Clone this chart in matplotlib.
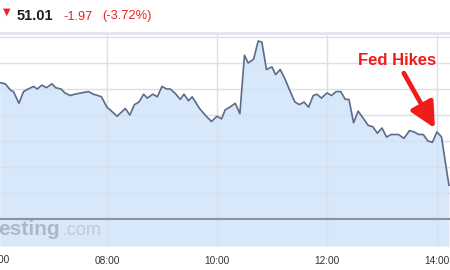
import pandas as pd
import numpy as np
import matplotlib
matplotlib.use('Agg')
import matplotlib.pyplot as plt
import matplotlib.dates as mdates
import matplotlib.transforms as mtransforms

# intraday quotes
times = ['06:03', '06:09', '06:15', '06:18', '06:24', '06:29', '06:34', '06:40', '06:44', '06:49',
         '06:54', '07:00', '07:04', '07:10', '07:14', '07:20', '07:25', '07:32', '07:40', '07:45',
         '07:50', '07:54', '08:00', '08:05', '08:11', '08:20', '08:25', '08:30', '08:35', '08:40',
         '08:44', '08:50', '08:55', '09:00', '09:05', '09:09', '09:14', '09:20', '09:24', '09:29',
         '09:33', '09:41', '09:47', '09:54', '10:00', '10:05', '10:09', '10:14', '10:20', '10:25',
         '10:30', '10:34', '10:40', '10:45', '10:49', '10:54', '11:00', '11:04', '11:09', '11:14',
         '11:20', '11:25', '11:30', '11:35', '11:40', '11:45', '11:49', '11:54', '12:00', '12:05',
         '12:10', '12:15', '12:20', '12:24', '12:29', '12:34', '12:40', '12:45', '12:50', '12:55',
         '13:00', '13:05', '13:10', '13:18', '13:24', '13:30', '13:35', '13:40', '13:45', '13:50',
         '13:55', '14:00', '14:05', '14:08', '14:13']
prices = [51.85, 51.84, 51.79, 51.78, 51.69, 51.78, 51.80, 51.82, 51.80, 51.83,
          51.81, 51.84, 51.81, 51.80, 51.77, 51.75, 51.76, 51.77, 51.78, 51.76,
          51.75, 51.74, 51.66, 51.63, 51.59, 51.65, 51.60, 51.68, 51.70, 51.76,
          51.73, 51.76, 51.74, 51.82, 51.80, 51.80, 51.77, 51.72, 51.76, 51.71,
          51.74, 51.65, 51.60, 51.55, 51.59, 51.57, 51.64, 51.66, 51.69, 51.61,
          52.06, 52.00, 52.03, 52.17, 52.16, 51.95, 51.97, 51.91, 51.95, 51.88,
          51.78, 51.70, 51.68, 51.70, 51.66, 51.75, 51.76, 51.73, 51.77, 51.75,
          51.78, 51.78, 51.72, 51.72, 51.54, 51.63, 51.57, 51.52, 51.51, 51.46,
          51.50, 51.43, 51.45, 51.45, 51.42, 51.48, 51.47, 51.45, 51.45, 51.40,
          51.39, 51.47, 51.43, 51.29, 51.06]
tick_times = ['06:00', '08:00', '10:00', '12:00', '14:00']
ref_level = 50.8
last_price = '51.01'
change = '-1.97'
change_pct = '(-3.72%)'
event_time = '14:00'
event_label = 'Fed Hikes'

plt.rcParams['font.family'] = ['Liberation Sans', 'DejaVu Sans']

day = '2015-12-16 '
t = pd.to_datetime([day + s for s in times])
ticks = pd.to_datetime([day + s for s in tick_times])
p = np.array(prices)

fig = plt.figure(figsize=(4.5, 2.7), dpi=100)
ax = fig.add_axes([0, 1 - 246 / 270, 1, (246 - 33) / 270])

ymin, ymax = 50.592, 52.231
ax.set_ylim(ymin, ymax)
ax.set_xlim(pd.Timestamp(day + '06:03:20'), pd.Timestamp(day + '14:14:12'))

ax.fill_between(t, p, ymin, color='#d7e8fb', lw=0, zorder=0.3)
ax.plot(t, p, color='#5d6a88', lw=1.2, zorder=2)
ax.axhline(ref_level, color='#8893a3', lw=1.5, zorder=1)

ax.set_axisbelow(True)
ax.set_yticks(np.arange(50.8, 52.2, 0.2))
ax.set_xticks(ticks[1:])
ax.xaxis.set_major_formatter(mdates.DateFormatter('%H:%M'))
ax.grid(True, color='#dcdfe9', lw=1)
ax.tick_params(length=0, pad=7, labelsize=7.3, labelcolor='#333333')
ax.tick_params(axis='y', labelleft=False)
for side in ['left', 'right', 'bottom']:
    ax.spines[side].set_visible(False)
ax.spines['top'].set_color('#e2e4ee')
ax.spines['top'].set_linewidth(2)

# 06:00 label sits just off the left edge
trans = mtransforms.blended_transform_factory(ax.transData, ax.transAxes)
ax.annotate(tick_times[0], xy=(mdates.date2num(ticks[0]), 0), xycoords=trans,
            xytext=(0, -14), textcoords='offset pixels', ha='center', va='center',
            fontsize=7.3, color='#333333', annotation_clip=False)

# watermark
fig.text(-2 / 450, 1 - 235 / 270, 'esting', fontsize=15, fontweight='bold',
         color='#a3adba', alpha=0.8, ha='left', va='baseline')
fig.text(62 / 450, 1 - 235 / 270, '.com', fontsize=13, color='#b9c3cf',
         alpha=0.8, ha='left', va='baseline')

# header
fig.text(7 / 450, 1 - 12 / 270, '\u25bc', fontsize=7, color='#ee1f26', ha='center', va='center',
         family='DejaVu Sans')
fig.text(17 / 450, 1 - 20 / 270, last_price, fontsize=10.5, fontweight='bold', color='#1e1e1e',
         va='baseline')
fig.text(63 / 450, 1 - 19.5 / 270, change, fontsize=9.2, color='#ee1f26', va='baseline')
fig.text(102 / 450, 1 - 19.5 / 270, change_pct, fontsize=9.3, color='#ee1f26', va='baseline')

# event annotation
i = times.index(event_time)
ax.annotate(event_label, xy=(t[i], p[i]), xytext=(pd.Timestamp(day + '13:16'), 52.02),
            ha='center', va='center', fontsize=12, fontweight='bold', color='#f01b1b',
            arrowprops=dict(arrowstyle='-|>', color='#f01b1b', lw=3.4, mutation_scale=38,
                            shrinkA=2, shrinkB=3), zorder=5)

fig.savefig('out.png', dpi=100)
